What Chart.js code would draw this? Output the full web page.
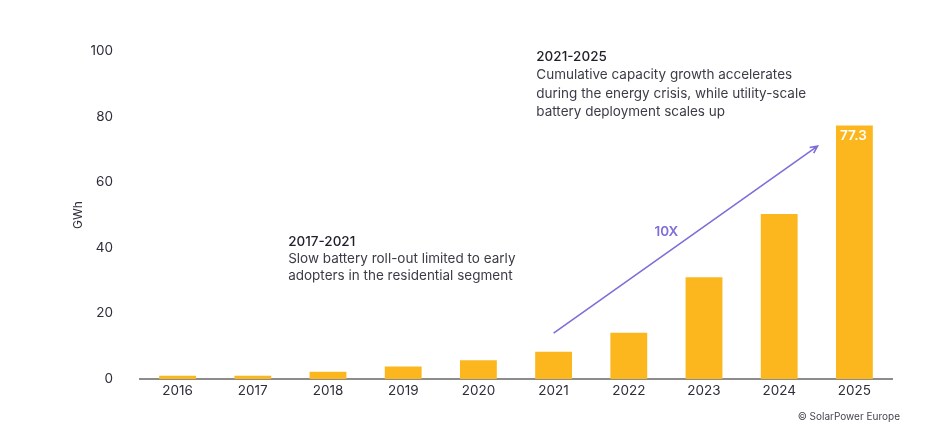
<!DOCTYPE html>
<html>
<head>
<meta charset="utf-8">
<script src="https://cdn.jsdelivr.net/npm/chart.js@4/dist/chart.umd.min.js"></script>
<style>
  html, body { margin: 0; padding: 0; background: #ffffff; }
  #wrap { width: 949px; height: 427px; position: relative; }
</style>
</head>
<body>
<div id="wrap"><canvas id="chart" width="949" height="427"></canvas></div>
<script>
// chart data
const years = ["2016", "2017", "2018", "2019", "2020", "2021", "2022", "2023", "2024", "2025"];
const capacity = [1.0, 1.0, 2.2, 3.8, 5.7, 8.3, 14.1, 31.0, 50.3, 77.3];
const yTicks = [0, 20, 40, 60, 80, 100];

// text notes
const noteLeftTitle = "2017-2021";
const noteLeftBody = ["Slow battery roll-out limited to early", "adopters in the residential segment"];
const noteRightTitle = "2021-2025";
const noteRightBody = ["Cumulative capacity growth accelerates", "during the energy crisis, while utility-scale", "battery deployment scales up"];
const growthLabel = "10X";
const sourceText = "\u00A9 SolarPower Europe";

const FONT = "Inter, 'Noto Sans', sans-serif";
const BAR = "#fdb71e";
const PURPLE = "#7d6fd8";

// notes, arrow, value label
const notesPlugin = {
  id: "notes",
  afterDatasetsDraw(chart) {
    const ctx = chart.ctx;
    const x = chart.scales.x;
    const y = chart.scales.y;
    ctx.save();

    // arrow 2021 -> 2025
    const x1 = x.getPixelForValue(5), y1 = y.getPixelForValue(14);
    const x2 = x.getPixelForValue(8.51), y2 = y.getPixelForValue(71);
    ctx.strokeStyle = PURPLE;
    ctx.lineWidth = 1.6;
    ctx.beginPath();
    ctx.moveTo(x1, y1);
    ctx.lineTo(x2, y2);
    const ang = Math.atan2(y2 - y1, x2 - x1);
    const hl = 8;
    ctx.moveTo(x2 - hl * Math.cos(ang - 0.45), y2 - hl * Math.sin(ang - 0.45));
    ctx.lineTo(x2, y2);
    ctx.lineTo(x2 - hl * Math.cos(ang + 0.45), y2 - hl * Math.sin(ang + 0.45));
    ctx.stroke();

    ctx.fillStyle = PURPLE;
    ctx.font = "600 13.5px " + FONT;
    ctx.textAlign = "center";
    ctx.textBaseline = "middle";
    ctx.fillText(growthLabel, x.getPixelForValue(6.5), y.getPixelForValue(44.7));

    // value on last bar
    const meta = chart.getDatasetMeta(0);
    const last = meta.data[meta.data.length - 1];
    ctx.fillStyle = "#ffffff";
    ctx.font = "600 13.5px " + FONT;
    ctx.fillText(capacity[capacity.length - 1].toFixed(1), last.x - 1, last.y + 10);

    // text blocks
    ctx.textAlign = "left";
    const block = (title, lines, xv, yv, gap) => {
      const px = x.getPixelForValue(xv);
      let py = y.getPixelForValue(yv);
      ctx.fillStyle = "#1f1f2b";
      ctx.font = "500 13.5px " + FONT;
      ctx.fillText(title, px, py);
      ctx.fillStyle = "#3c3c48";
      ctx.font = "13.5px " + FONT;
      lines.forEach((l) => {
        py += gap;
        ctx.fillText(l, px, py);
      });
    };
    block(noteLeftTitle, noteLeftBody, 1.47, 41.7, 17);
    block(noteRightTitle, noteRightBody, 4.77, 98.3, 18.5);

    // source
    ctx.textAlign = "right";
    ctx.fillStyle = "#444450";
    ctx.font = "10px " + FONT;
    ctx.fillText(sourceText, 900, 417);
    ctx.restore();
  }
};

new Chart(document.getElementById("chart"), {
  type: "bar",
  data: {
    labels: years,
    datasets: [{
      data: capacity,
      backgroundColor: BAR,
      borderWidth: 0,
      barPercentage: 0.49,
      categoryPercentage: 1
    }]
  },
  options: {
    responsive: false,
    animation: false,
    events: [],
    layout: { padding: { top: 51, right: 57, bottom: 0, left: 0 } },
    plugins: { legend: { display: false }, tooltip: { enabled: false } },
    scales: {
      x: {
        grid: { display: false, drawTicks: false },
        border: { display: true, color: "#8c8c8c", width: 2 },
        ticks: { color: "#2e2e3a", font: { family: FONT, size: 13.5 }, padding: 4, maxRotation: 0 },
        afterFit(scale) { scale.height = 48; }
      },
      y: {
        min: 0,
        max: 100,
        afterBuildTicks(scale) { scale.ticks = yTicks.map((v) => ({ value: v })); },
        grid: { display: false, drawTicks: false },
        border: { display: false },
        ticks: { color: "#2e2e3a", font: { family: FONT, size: 13.5 }, padding: 27 },
        title: {
          display: true,
          text: "GWh",
          color: "#2e2e3a",
          font: { family: FONT, size: 12 },
          padding: { top: 71, bottom: 0 }
        },
        afterFit(scale) { scale.width = 140; }
      }
    }
  },
  plugins: [notesPlugin]
});
</script>
</body>
</html>
